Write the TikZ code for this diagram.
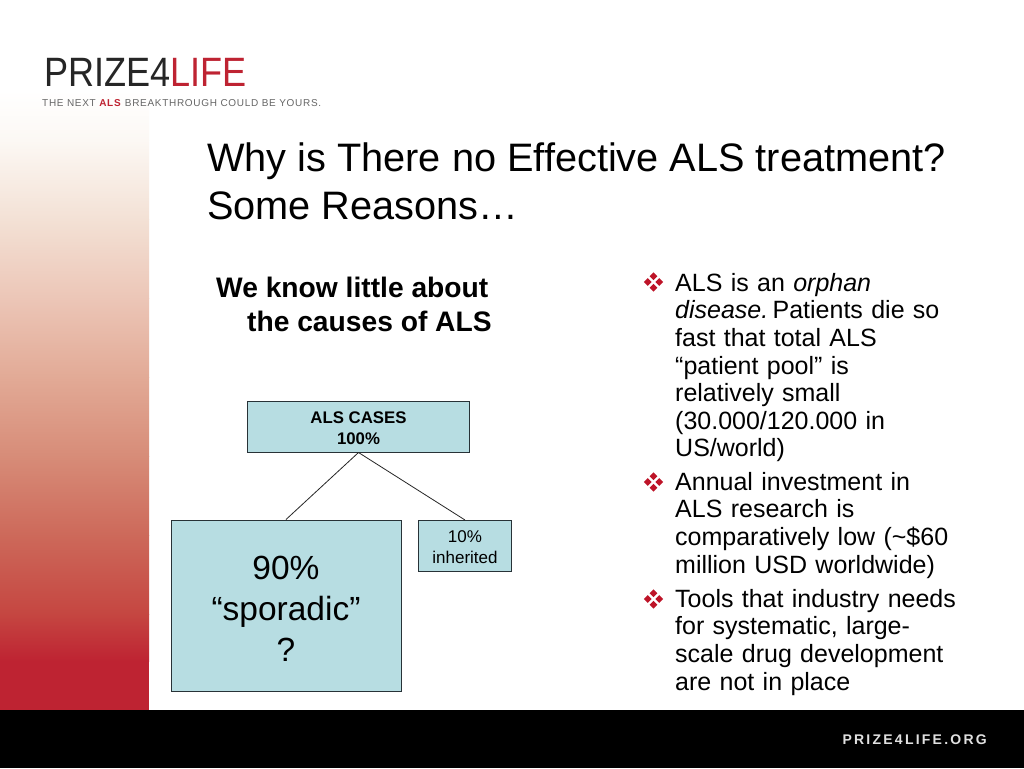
\documentclass[tikz,border=0pt]{standalone}
\usepackage{fontspec}
\setmainfont{Liberation Sans}
\usetikzlibrary{positioning}
\definecolor{boxfill}{RGB}{183,221,226}
\definecolor{boxline}{RGB}{40,50,55}
\definecolor{alsred}{RGB}{190,35,50}
\definecolor{bulletred}{RGB}{190,20,40}
\definecolor{fadea}{RGB}{255,255,255}
\definecolor{fadeb}{RGB}{252,248,244}
\definecolor{fadec}{RGB}{243,225,213}
\definecolor{faded}{RGB}{236,198,183}
\definecolor{fadee}{RGB}{226,170,150}
\definecolor{fadef}{RGB}{215,140,120}
\definecolor{fadeg}{RGB}{205,105,90}
\definecolor{fadeh}{RGB}{197,70,65}
\tikzset{
  casebox/.style={draw=boxline,line width=1pt,fill=boxfill,align=center,inner sep=0pt},
  branch/.style={draw=black!85,line width=0.8pt},
  bullettext/.style={anchor=north west,align=left,inner sep=0pt,font=\fontsize{25}{27.6}\selectfont,text width=300pt}
}
% red four-lozenge bullet
\newcommand{\lozbullet}[2]{%
  \foreach \dx/\dy in {0/-5.8,0/5.8,-5.8/0,5.8/0}
    \fill[bulletred] (#1+\dx-3.9,#2+\dy) -- (#1+\dx,#2+\dy-3.9) -- (#1+\dx+3.9,#2+\dy) -- (#1+\dx,#2+\dy+3.9) -- cycle;
}
\newcommand{\lift}[1]{\rule{0pt}{#1pt}}
\begin{document}
\begin{tikzpicture}[x=1pt,y=-1pt]
  \useasboundingbox (0,0) rectangle (1024,768);
  \fill[white] (0,0) rectangle (1024,768);
  % left strip
  \foreach \ya/\yb/\ca/\cb in {90/140/fadea/fadeb,140/219/fadeb/fadec,219/298/fadec/faded,298/377/faded/fadee,377/456/fadee/fadef,456/535/fadef/fadeg,535/614/fadeg/fadeh,614/661/fadeh/alsred}
    \shade[top color=\ca,bottom color=\cb] (0,\ya) rectangle (149,\yb+0.5);
  \fill[alsred] (0,661) rectangle (149,710);
  \fill[black] (0,710) rectangle (1024,768);
  % logo
  \node[anchor=west,inner sep=0pt,font=\fontsize{41}{41}\selectfont] (logo) at (44,72) {\scalebox{0.88}[1]{\textcolor{black!85}{PRIZE4}\textcolor{alsred}{LIFE}}};
  \node[anchor=west,inner sep=0pt,font=\fontsize{10}{10}\selectfont\addfontfeatures{LetterSpace=7},text=black!60] (tag) at (42,103.5) {THE NEXT \textcolor{alsred}{\textbf{ALS}} BREAKTHROUGH COULD BE YOURS.};
  \node[anchor=east,inner sep=0pt,font=\fontsize{14}{14}\bfseries\selectfont\addfontfeatures{LetterSpace=16},text=white!88!black] (url) at (987,739.5) {PRIZE4LIFE.ORG};
  % title
  \node[anchor=north west,inner sep=0pt,align=left,font=\fontsize{39.7}{48}\selectfont] (title) at (207,143) {Why is There no Effective ALS treatment?\\Some Reasons…};
  \node[anchor=north west,inner sep=0pt,align=left,font=\fontsize{28.2}{34}\bfseries\selectfont] (head) at (216,277) {We know little about\\\hspace*{31pt}the causes of ALS};
  % tree
  \node[casebox,minimum width=222pt,minimum height=51pt,font=\fontsize{16.8}{21}\bfseries\selectfont] (cases) at (358.5,426.5) {\lift{15}ALS CASES\\100\%};
  \node[casebox,minimum width=230pt,minimum height=171pt,font=\fontsize{33.5}{41}\selectfont] (sporadic) at (286,605.5) {\lift{30}90\%\\“sporadic”\\?};
  \node[casebox,minimum width=93pt,minimum height=51pt,font=\fontsize{17}{21}\selectfont] (inherited) at (465,546) {\lift{15}10\%\\inherited};
  \draw[branch] (cases.south) -- (sporadic.north);
  \draw[branch] (cases.south) -- (inherited.north);
  % bullets
  \lozbullet{653.5}{282}
  \lozbullet{653.5}{482}
  \lozbullet{653.5}{599}
  \node[bullettext] (first) at (675,273) {ALS is an \textit{orphan}\\\textit{disease.}\hspace*{-4pt} Patients die so\\fast that total ALS\\“patient pool” is\\relatively small\\(30.000/120.000 in\\US/world)};
  \node[bullettext] (second) at (675,472) {Annual investment in\\ALS research is\\comparatively low (\textasciitilde\$60\\million USD worldwide)};
  \node[bullettext] (third) at (675,589) {Tools that industry needs\\for systematic, large-\\scale drug development\\are not in place};
\end{tikzpicture}
\end{document}
